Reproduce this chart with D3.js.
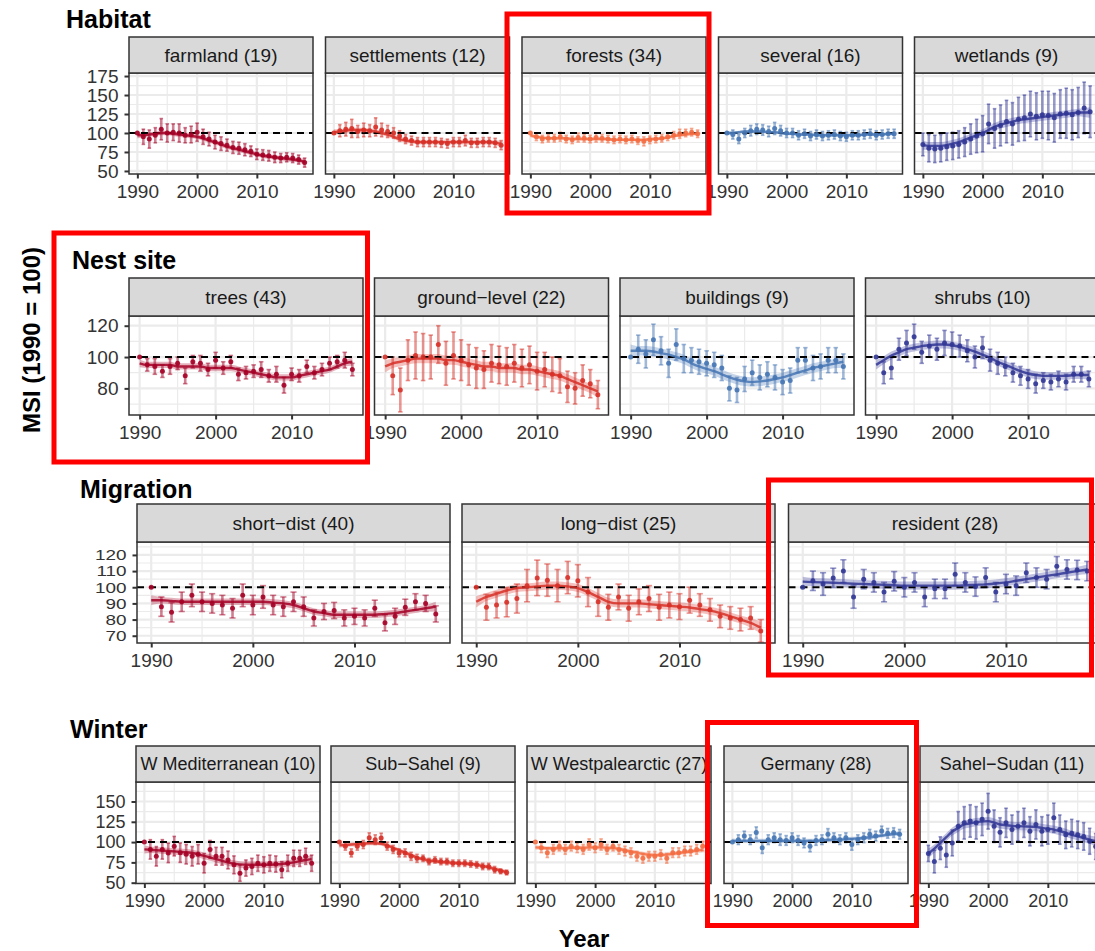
<!DOCTYPE html>
<html><head><meta charset="utf-8">
<script src="https://cdn.jsdelivr.net/npm/d3@7"></script>
<style>
body{margin:0;background:#fff;}
svg{display:block;}
text{font-family:"Liberation Sans",Arial,Helvetica,sans-serif;}
</style>
</head><body>
<svg id="chart" width="1095" height="951"></svg>
<script>
// ---------------- DATA ----------------
const years = [1990,1991,1992,1993,1994,1995,1996,1997,1998,1999,2000,2001,2002,2003,2004,2005,2006,2007,2008,2009,2010,2011,2012,2013,2014,2015,2016,2017,2018];
const xTicks = [1990,2000,2010];

// Habitat
const habitatTitle = "Habitat";
const habitatLabels = ["farmland (19)","settlements (12)","forests (34)","several (16)","wetlands (9)"];
const habitatYTicks = [50,75,100,125,150,175];
const farmlandMSI = [100,95,92,97,105,100,101,100,97,98,101,95,92,88,86,84,81,80,78,76,72,71,70,68,67,68,67,65,61];
const farmlandErr = [0,10,12,10,14,12,11,12,10,11,12,10,9,9,9,8,8,8,8,7,7,7,7,7,6,6,6,6,6];
const farmlandTrend = [97,97,98,99,100,100,99,98,97,96,95,93,90,88,85,82,80,78,76,74,72,70,69,68,67,66,65,64,62];
const farmlandBand = [4,3,3,3,3,3,3,3,3,3,3,3,3,3,3,3,3,3,3,3,3,3,3,3,3,3,3,3,4];
const settlementsMSI = [100,103,105,106,102,104,103,108,104,102,100,96,92,90,88,88,88,88,87,86,88,88,90,87,87,88,88,87,84];
const settlementsErr = [0,8,9,12,8,9,8,12,9,8,7,7,6,6,6,6,6,6,6,6,6,6,7,6,6,6,6,6,6];
const settlementsTrend = [101,102,103,104,104,104,103,102,100,98,95,92,90,89,88,88,88,88,88,88,88,88,88,88,88,88,88,87,86];
const settlementsBand = [4,3,3,3,3,3,3,3,3,3,3,3,3,3,3,3,3,3,3,3,3,3,3,3,3,3,3,3,4];
const forestsMSI = [100,95,92,93,93,95,92,91,94,93,92,94,93,92,91,92,91,92,90,89,91,92,93,95,97,99,100,101,99];
const forestsErr = [0,5,5,5,5,6,5,5,6,5,5,6,5,5,5,5,5,5,5,6,5,5,5,5,5,6,5,5,5];
const forestsTrend = [97,95,94,93,93,93,93,92,92,92,92,92,92,92,91,91,91,91,91,91,92,92,93,94,96,97,98,99,99];
const forestsBand = [3,2,2,2,2,2,2,2,2,2,2,2,2,2,2,2,2,2,2,2,2,2,2,2,2,2,2,2,3];
const severalMSI = [100,98,92,100,103,105,104,102,106,103,100,100,97,99,96,98,96,97,98,96,95,97,97,98,99,97,98,99,99];
const severalErr = [0,6,6,6,7,7,7,7,8,7,6,6,6,6,6,6,6,6,6,6,6,6,6,6,6,6,6,6,6];
const severalTrend = [100,100,101,102,102,102,102,101,101,100,99,99,98,98,98,97,97,97,97,97,97,97,97,98,98,98,98,99,99];
const severalBand = [3,2,2,2,2,2,2,2,2,2,2,2,2,2,2,2,2,2,2,2,2,2,2,2,2,2,2,2,3];
const wetlandsMSI = [85,80,79,80,82,83,85,88,92,96,99,112,106,110,115,112,118,120,125,122,124,123,120,125,126,124,127,133,128];
const wetlandsErr = [15,18,18,18,18,18,18,19,20,22,24,26,26,27,28,28,29,30,30,31,31,32,32,32,33,33,33,34,34];
const wetlandsTrend = [84,83,83,83,84,86,88,91,94,97,100,104,108,111,113,115,117,118,119,120,121,122,123,124,125,126,127,127,127];
const wetlandsBand = [6,5,5,5,5,5,5,5,5,5,5,5,5,5,5,5,5,5,5,5,5,5,5,5,5,5,5,6,7];

// Nest site
const nestTitle = "Nest site";
const nestLabels = ["trees (43)","ground\u2212level (22)","buildings (9)","shrubs (10)"];
const nestYTicks = [80,100,120];
const treesMSI = [100,95,94,91,94,96,88,97,96,92,98,93,97,89,90,91,92,88,89,82,89,88,94,90,92,96,97,98,92];
const treesErr = [0,4,5,4,5,4,5,4,5,4,5,4,4,4,4,4,5,4,5,5,4,4,4,4,4,4,4,5,4];
const treesTrend = [96,95,95,95,95,94,94,94,94,93,93,93,93,92,91,90,89,88,87,87,87,88,89,90,91,92,94,96,97];
const treesBand = [2.5,2,2,2,2,2,2,2,2,2,2,2,2,2,2,2,2,2,2,2,2,2,2,2,2,2,2,2,2.5];
const groundMSI = [100,88,79,98,101,100,100,108,96,101,98,95,93,92,96,95,94,96,93,95,91,92,89,88,81,80,85,83,76];
const groundErr = [0,12,14,13,15,15,14,12,14,15,13,13,13,12,12,12,12,12,12,12,12,11,11,11,10,10,10,9,9];
const groundTrend = [94,96,97,98,99,99,99,99,98,98,97,96,95,94,94,93,93,93,92,92,91,90,89,88,86,84,82,80,78];
const groundBand = [4,3,3,3,3,3,3,3,3,3,3,3,3,3,3,3,3,3,3,3,3,3,3,3,3,3,3,3,4];
const buildingsMSI = [100,105,102,111,104,96,108,99,98,97,96,95,93,80,79,86,90,87,89,87,84,85,98,98,93,94,98,98,94];
const buildingsErr = [0,9,9,10,9,9,10,9,8,8,8,8,8,8,8,8,8,8,8,8,8,8,8,8,8,8,8,8,8];
const buildingsTrend = [104,104,104,103.5,102.5,101.5,100,98.5,96,94,92.5,91,89,87,85.5,84.5,84,84.5,85,86,87,88.5,90,91.5,93,94,95,96,97];
const buildingsBand = [4,3,3,3,3,3,3,3,3,3,3,3,3,3,3,3,3,3,3,3,3,3,3,3,3,3,3,3,4];
const shrubsMSI = [100,90,93,105,109,113,103,107,105,109,108,107,104,100,106,98,96,94,90,88,86,83,85,84,86,84,89,89,86];
const shrubsErr = [0,7,7,7,8,8,7,7,7,8,8,7,7,7,7,7,7,6,6,6,6,6,5,5,5,5,5,5,5];
const shrubsTrend = [95,98,101,103,105,106,107,107.5,108,108,107.5,106.5,105,103.5,101.5,99.5,97,95,93,91,89.5,88.5,88,88,88,88,88.5,88.5,88.5];
const shrubsBand = [3,2.5,2.5,2.5,2.5,2.5,2.5,2.5,2.5,2.5,2.5,2.5,2.5,2.5,2.5,2.5,2.5,2.5,2.5,2.5,2.5,2.5,2.5,2.5,2.5,2.5,2.5,2.5,3];

// Migration
const migrationTitle = "Migration";
const migrationLabels = ["short\u2212dist (40)","long\u2212dist (25)","resident (28)"];
const migrationYTicks = [70,80,90,100,110,120];
const shortMSI = [100,88,84.5,91,95,91,90,89,87,95,89,94,89,88,91,88,81,85,85.6,81,82,81,87,78,82,87.6,91,90,83.5];
const shortErr = [0,6,6,6,7,6,6,6,6,7,6,7,6,6,6,6,5,5,5,5,5,5,5,5,5,5,5,5,5];
const shortTrend = [92,92,91.5,91,91,91,91,91,91,91,91,91,90.5,90,89,87,85,84,83,83,83,83,83,83.5,84,85,86,87,88];
const shortBand = [3,2,2,2,2,2,2,2,2,2,2,2,2,2,2,2,2,2,2,2,2,2,2,2,2,2,2,2,3];
const longMSI = [100,87.6,89,90.7,93,101,105.8,104.4,101,106,104,97,91,87.6,94,87,91,93,87.6,89,88,92,89,86,82,81,80,81,73];
const longErr = [0,8,8,9,9,10,11,10,10,10,10,9,9,8,8,8,8,8,8,8,8,8,7,7,7,7,7,7,7];
const longTrend = [91,94,96,98,99.5,100,100.5,101,101,100.5,99.5,97,94,91,90,90,90,89.5,89,88.5,88,87.5,86.5,85.5,84,82,80,78,75];
const longBand = [3.5,2.5,2.5,2.5,2.5,2.5,2.5,2.5,2.5,2.5,2.5,2.5,2.5,2.5,2.5,2.5,2.5,2.5,2.5,2.5,2.5,2.5,2.5,2.5,2.5,2.5,2.5,3,3.5];
const residentMSI = [100,104,102,105.8,110,94,105,103,97,103.7,100,103,94,99,99,108,103,100.4,106,97,102,101,109,106,105,113,111,110.7,110];
const residentErr = [0,6,7,6,7,7,6,6,6,6,6,6,6,6,6,7,6,6,6,6,6,6,6,6,6,6,6,6,6];
const residentTrend = [103.5,103.2,103,102.8,102.5,102.2,102,101.7,101.5,101.2,101,101,101,101,101,101,101.2,101.5,101.8,102.3,103,104,105,106,107,108,109,110,111];
const residentBand = [3,2.5,2.5,2.5,2.5,2.5,2.5,2.5,2.5,2.5,2.5,2.5,2.5,2.5,2.5,2.5,2.5,2.5,2.5,2.5,2.5,2.5,2.5,2.5,2.5,2.5,2.5,2.5,3];

// Winter
const winterTitle = "Winter";
const winterLabels = ["W Mediterranean (10)","Sub\u2212Sahel (9)","W Westpalearctic (27)","Germany (28)","Sahel\u2212Sudan (11)"];
const winterYTicks = [50,75,100,125,150];
const wmedMSI = [100,91,82.5,91,86.7,95,87,85,82.5,85,74,91,82.5,82.5,78,72,61.7,68,70,74,72,74,73,66,74,80,80,82.5,74];
const wmedErr = [0,12,12,12,12,12,12,12,12,12,12,11,11,11,11,11,10,10,10,10,10,10,10,10,10,10,10,10,10];
const wmedTrend = [91,90.5,90,89.5,89,88.5,88,87.5,86.5,85,83,81,79,77,75,73.5,72.5,72,72,72,72,72,72.5,73,74,75,76.5,78,79];
const wmedBand = [5,4,4,4,4,4,4,4,4,4,4,4,4,4,4,4,4,4,4,4,4,4,4,4,4,4,4,4,5];
const subsahelMSI = [100,95,86.7,95,97,105.4,103,105,95,91,86.7,86.7,82.5,80,80,76,78,76,76,74,74,74,73,72,70,70,66,64,62.5];
const subsahelErr = [0,5,5,5,5,6,6,6,5,5,5,5,5,5,4,4,4,4,4,4,4,4,4,4,4,4,4,3,3];
const subsahelTrend = [96,96.5,97,97.5,98,98.5,98.5,98,96,93,90,87,84,81,79,77.5,76.5,75.5,75,74.5,74,73.5,73,72,70.5,69,67,65,63];
const subsahelBand = [3,2.5,2.5,2.5,2.5,2.5,2.5,2.5,2.5,2.5,2.5,2.5,2.5,2.5,2.5,2.5,2.5,2.5,2.5,2.5,2.5,2.5,2.5,2.5,2.5,2.5,2.5,2.5,3];
const wwestMSI = [100,93,87,91,95,91,95,93,91,97,93,97,91,95,91,89,87,82.5,80,82.5,82.5,84.6,80,87,87,89,89,91,95];
const wwestErr = [0,6,6,6,6,6,6,6,6,7,6,7,6,6,6,6,6,6,6,6,6,6,6,6,6,6,6,6,6];
const wwestTrend = [93.5,93,92.5,92.5,92.5,92.5,93,93,93,93.5,93.5,93.5,93,92.5,91.5,90,88.5,87,85.5,84.5,84,84,84.5,85.5,86.5,87.5,88.5,89.5,90.5];
const wwestBand = [3,2.5,2.5,2.5,2.5,2.5,2.5,2.5,2.5,2.5,2.5,2.5,2.5,2.5,2.5,2.5,2.5,2.5,2.5,2.5,2.5,2.5,2.5,2.5,2.5,2.5,2.5,2.5,3];
const germanyMSI = [100,103,107.5,103,111.7,93,103,105.4,103,102,105.4,102,99,95,102,103,109.6,105.4,103,105.4,97,103,105.4,109.6,107.5,113.7,110.8,111.7,109.6];
const germanyErr = [0,6,6,6,7,7,6,6,7,6,6,6,6,7,6,6,7,6,6,6,7,6,6,6,6,6,6,6,6];
const germanyTrend = [101.5,101.5,101.5,101.5,101.5,101.5,101.5,101.5,101.5,101.5,101.5,101.5,101.5,101.5,101.5,102,102.5,103,103,103.5,104,104.5,105,106,107,108,109,110,110.5];
const germanyBand = [3,2.5,2.5,2.5,2.5,2.5,2.5,2.5,2.5,2.5,2.5,2.5,2.5,2.5,2.5,2.5,2.5,2.5,2.5,2.5,2.5,2.5,2.5,2.5,2.5,2.5,2.5,2.5,3];
const sudanMSI = [86,76,92.5,84,99,119.6,123.7,126,123.7,128,138,119.6,112,123.7,115.4,119.6,123.7,113.3,121.7,113.3,115.4,130,115.4,109,111,109,107,101,94.6];
const sudanErr = [10,14,14,15,16,18,20,20,20,20,22,20,18,18,18,18,18,18,18,18,18,18,18,17,17,17,17,16,16];
const sudanTrend = [86,92,99,106,113,117.5,121.7,123,124.6,125.3,125.8,124,121.7,120.7,120,119.6,119.3,119,118.7,117.5,116.5,115.4,113.5,111.5,109,107,105,103,101];
const sudanBand = [6,5,5,5,5,5,5,5,5,5,5,5,5,5,5,5,5,5,5,5,5,5,5,5,5,5,5,5,6];

const yAxisTitle = "MSI (1990 = 100)";
const xAxisTitle = "Year";

// ---------------- COLOURS & LAYOUT ----------------
const C = {dred:"#A50026", red:"#D73027", orange:"#F46D43", blue:"#4575B4", dblue:"#313695"};

const rows = [
  {title:habitatTitle, labels:habitatLabels, yTicks:habitatYTicks,
   series:[[farmlandMSI,farmlandErr,farmlandTrend,farmlandBand],[settlementsMSI,settlementsErr,settlementsTrend,settlementsBand],
           [forestsMSI,forestsErr,forestsTrend,forestsBand],[severalMSI,severalErr,severalTrend,severalBand],[wetlandsMSI,wetlandsErr,wetlandsTrend,wetlandsBand]],
   colors:[C.dred,C.red,C.orange,C.blue,C.dblue],
   L:{titleX:66,titleY:28,stripTop:37,plotTop:73,plotBottom:174,lefts:[129,325.5,522,718.5,914.5],width:184,yDomain:[46,179],fs:19,yfs:19}},
  {title:nestTitle, labels:nestLabels, yTicks:nestYTicks,
   series:[[treesMSI,treesErr,treesTrend,treesBand],[groundMSI,groundErr,groundTrend,groundBand],
           [buildingsMSI,buildingsErr,buildingsTrend,buildingsBand],[shrubsMSI,shrubsErr,shrubsTrend,shrubsBand]],
   colors:[C.dred,C.red,C.blue,C.dblue],
   L:{titleX:72,titleY:269,stripTop:278,plotTop:316,plotBottom:415,lefts:[129,374.5,620,865.5],width:234,yDomain:[63,126.2],fs:19,yfs:19}},
  {title:migrationTitle, labels:migrationLabels, yTicks:migrationYTicks,
   series:[[shortMSI,shortErr,shortTrend,shortBand],[longMSI,longErr,longTrend,longBand],[residentMSI,residentErr,residentTrend,residentBand]],
   colors:[C.dred,C.red,C.dblue],
   L:{titleX:80,titleY:498,stripTop:504,plotTop:542,plotBottom:643,lefts:[137,462,788.5],width:313,yDomain:[65.5,128],fs:19,yfs:15,ysx:1.26}},
  {title:winterTitle, labels:winterLabels, yTicks:winterYTicks,
   series:[[wmedMSI,wmedErr,wmedTrend,wmedBand],[subsahelMSI,subsahelErr,subsahelTrend,subsahelBand],
           [wwestMSI,wwestErr,wwestTrend,wwestBand],[germanyMSI,germanyErr,germanyTrend,germanyBand],[sudanMSI,sudanErr,sudanTrend,sudanBand]],
   colors:[C.dred,C.red,C.orange,C.blue,C.dblue],
   L:{titleX:70,titleY:738,stripTop:746,plotTop:782,plotBottom:883.5,lefts:[136,331,527,724,920],width:184,yDomain:[49,174],fs:18,yfs:18}}
];
const xDomain = [1988.6, 2019.4];

// ---------------- DRAW ----------------
const svg = d3.select("#chart");
svg.append("rect").attr("width",1095).attr("height",951).attr("fill","#fff");
const defs = svg.append("defs");
let clipId = 0;

function minorOf(ticks, dom){
  const step = ticks[1]-ticks[0];
  const out = [];
  for (let v = ticks[0]-step/2; v <= dom[1]; v += step) if (v >= dom[0]) out.push(v);
  return out;
}

const TICK = 4.5, PAD = 6;

rows.forEach(row => {
  const L = row.L;
  svg.append("text").attr("x",L.titleX).attr("y",L.titleY)
    .attr("font-size",25).attr("font-weight","bold").attr("fill","#000").text(row.title);

  row.labels.forEach((label,i) => {
    const left = L.lefts[i], right = left + L.width;
    const x = d3.scaleLinear().domain(xDomain).range([left,right]);
    const y = d3.scaleLinear().domain(L.yDomain).range([L.plotBottom,L.plotTop]);
    const [msi,err,trend,band] = row.series[i];
    const col = row.colors[i];
    const data = years.map((yr,k)=>({yr, v:msi[k], e:err[k], t:trend[k], b:band[k]}));

    const id = "clip"+(clipId++);
    defs.append("clipPath").attr("id",id).append("rect")
      .attr("x",left).attr("y",L.plotTop).attr("width",L.width).attr("height",L.plotBottom-L.plotTop);
    const sid = "clip"+(clipId++);
    defs.append("clipPath").attr("id",sid).append("rect")
      .attr("x",left).attr("y",L.stripTop).attr("width",L.width).attr("height",L.plotTop-L.stripTop);

    const g = svg.append("g");
    const pg = g.append("g").attr("clip-path",`url(#${id})`);
    pg.append("rect").attr("x",left).attr("y",L.plotTop).attr("width",L.width)
      .attr("height",L.plotBottom-L.plotTop).attr("fill","#fff");

    // grid
    const yMinor = minorOf(row.yTicks, L.yDomain);
    const xMinor = minorOf(xTicks, xDomain);
    pg.selectAll(".ymin").data(yMinor).join("line")
      .attr("x1",left).attr("x2",right).attr("y1",d=>y(d)).attr("y2",d=>y(d))
      .attr("stroke","#EBEBEB").attr("stroke-width",1.2);
    pg.selectAll(".xmin").data(xMinor).join("line")
      .attr("y1",L.plotTop).attr("y2",L.plotBottom).attr("x1",d=>x(d)).attr("x2",d=>x(d))
      .attr("stroke","#EBEBEB").attr("stroke-width",1.2);
    pg.selectAll(".ymaj").data(row.yTicks).join("line")
      .attr("x1",left).attr("x2",right).attr("y1",d=>y(d)).attr("y2",d=>y(d))
      .attr("stroke","#EBEBEB").attr("stroke-width",2.2);
    pg.selectAll(".xmaj").data(xTicks).join("line")
      .attr("y1",L.plotTop).attr("y2",L.plotBottom).attr("x1",d=>x(d)).attr("x2",d=>x(d))
      .attr("stroke","#EBEBEB").attr("stroke-width",2.2);

    // ribbon
    pg.append("path").datum(data)
      .attr("d",d3.area().x(d=>x(d.yr)).y0(d=>y(d.t-d.b)).y1(d=>y(d.t+d.b)).curve(d3.curveMonotoneX))
      .attr("fill",col).attr("opacity",0.3);

    // error bars
    const eb = data.filter(d=>d.e>0);
    const cap = (x(1)-x(0))*0.3;
    pg.selectAll(".eb").data(eb).join("line")
      .attr("x1",d=>x(d.yr)).attr("x2",d=>x(d.yr)).attr("y1",d=>y(d.v-d.e)).attr("y2",d=>y(d.v+d.e))
      .attr("stroke",col).attr("stroke-width",2.6).attr("opacity",0.5);
    pg.selectAll(".ebt").data(eb).join("line")
      .attr("x1",d=>x(d.yr)-cap).attr("x2",d=>x(d.yr)+cap).attr("y1",d=>y(d.v+d.e)).attr("y2",d=>y(d.v+d.e))
      .attr("stroke",col).attr("stroke-width",1.6).attr("opacity",0.5);
    pg.selectAll(".ebb").data(eb).join("line")
      .attr("x1",d=>x(d.yr)-cap).attr("x2",d=>x(d.yr)+cap).attr("y1",d=>y(d.v-d.e)).attr("y2",d=>y(d.v-d.e))
      .attr("stroke",col).attr("stroke-width",1.6).attr("opacity",0.5);

    // dashed reference line
    pg.append("line").attr("x1",left).attr("x2",right).attr("y1",y(100)).attr("y2",y(100))
      .attr("stroke","#000").attr("stroke-width",2).attr("stroke-dasharray","7,5");

    // trend line
    pg.append("path").datum(data)
      .attr("d",d3.line().x(d=>x(d.yr)).y(d=>y(d.t)).curve(d3.curveMonotoneX))
      .attr("fill","none").attr("stroke",col).attr("stroke-width",2.4).attr("opacity",0.85);

    // points
    pg.selectAll(".pt").data(data).join("circle")
      .attr("cx",d=>x(d.yr)).attr("cy",d=>y(d.v)).attr("r",2.5).attr("fill",col).attr("opacity",0.9);

    // panel border
    g.append("rect").attr("x",left).attr("y",L.plotTop).attr("width",L.width)
      .attr("height",L.plotBottom-L.plotTop).attr("fill","none").attr("stroke","#333").attr("stroke-width",1.5);

    // strip
    g.append("rect").attr("x",left).attr("y",L.stripTop).attr("width",L.width)
      .attr("height",L.plotTop-L.stripTop).attr("fill","#D9D9D9").attr("stroke","#333").attr("stroke-width",1.5);
    g.append("g").attr("clip-path",`url(#${sid})`).append("text")
      .attr("x",left+L.width/2).attr("y",(L.stripTop+L.plotTop)/2).attr("dy","0.36em")
      .attr("text-anchor","middle").attr("font-size",L.fs).attr("fill","#1A1A1A").text(label);

    // x axis (every panel)
    const xa = g.append("g").attr("transform",`translate(0,${L.plotBottom})`)
      .call(d3.axisBottom(x).tickValues(xTicks).tickFormat(d3.format("d")).tickSize(TICK).tickPadding(PAD));
    const axes = [xa];
    // y axis (first panel of each row only, shared scale)
    if (i === 0) {
      const ya = g.append("g").attr("transform",`translate(${left},0)`)
        .call(d3.axisLeft(y).tickValues(row.yTicks).tickFormat(d3.format("d")).tickSize(TICK).tickPadding(PAD));
      axes.push(ya);
    }
    axes.forEach((a,k)=>{
      a.select(".domain").remove();
      a.selectAll(".tick line").attr("stroke","#333").attr("stroke-width",2);
      a.selectAll(".tick text").attr("font-size",k===0?L.fs:L.yfs).attr("fill","#333")
        .attr("font-family","'Liberation Sans',Arial,Helvetica,sans-serif");
    });
    if (axes.length>1 && L.ysx) {
      const off = (TICK+PAD)*(L.ysx-1);
      axes[1].selectAll(".tick text").attr("transform",`translate(${off},0) scale(${L.ysx},1)`);
    }
  });
});

// axis titles
svg.append("text").attr("transform","translate(40,340) rotate(-90)")
  .attr("text-anchor","middle").attr("font-size",24).attr("font-weight","bold").attr("fill","#000").text(yAxisTitle);
svg.append("text").attr("x",584).attr("y",947).attr("text-anchor","middle")
  .attr("font-size",24).attr("font-weight","bold").attr("fill","#000").text(xAxisTitle);

// red highlight boxes
const highlightBoxes = [[507,14,202,199],[54,233,313.5,229],[768.5,480,323,195],[707.5,722.5,209,203]];
svg.selectAll(".hl").data(highlightBoxes).join("rect")
  .attr("x",d=>d[0]).attr("y",d=>d[1]).attr("width",d=>d[2]).attr("height",d=>d[3])
  .attr("fill","none").attr("stroke","#FF0000").attr("stroke-width",5);
</script>
</body></html>
